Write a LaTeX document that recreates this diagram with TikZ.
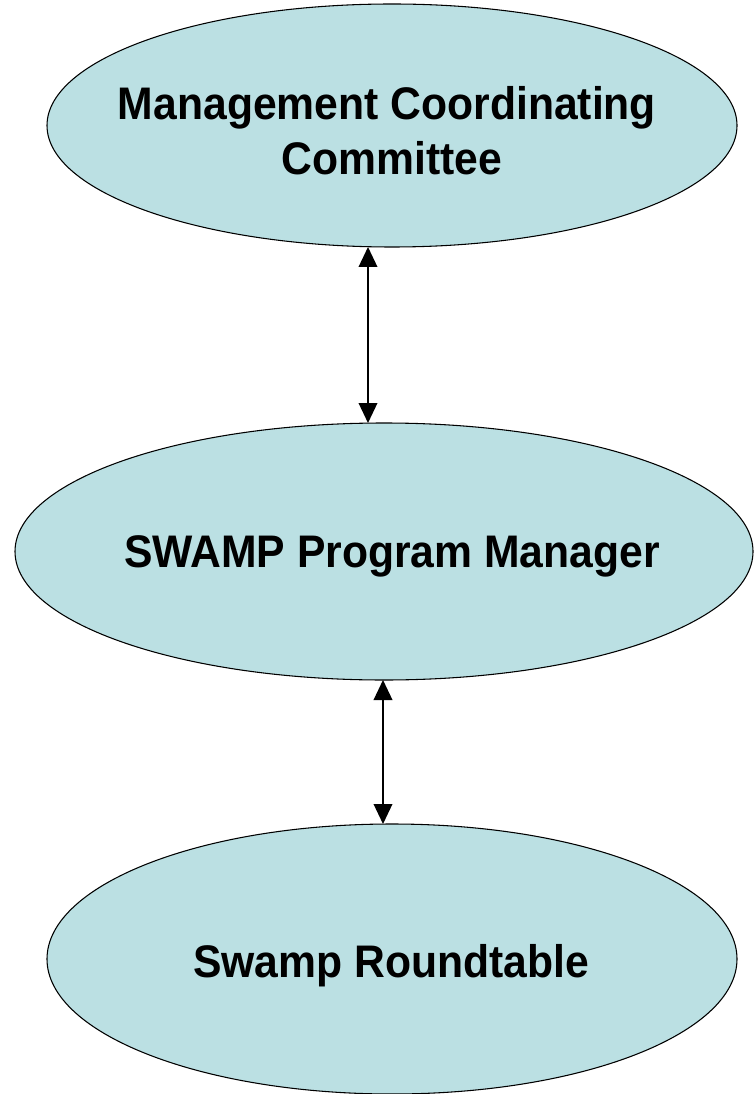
\documentclass[tikz,border=0pt]{standalone}
\usepackage{fontspec}
\usepackage{graphicx}
\setmainfont{Liberation Sans}
\usetikzlibrary{shapes.geometric,arrows.meta}
\definecolor{bubble}{RGB}{187,224,227}
\newcommand{\tallline}[1]{\scalebox{1}[1.07]{#1}}
\begin{document}
\begin{tikzpicture}[x=0.75pt,y=-0.75pt,
  bubble/.style={ellipse,draw=black,line width=0.8pt,fill=bubble,inner sep=0pt,outer sep=0pt},
  caption/.style={anchor=base,inner sep=0pt,font=\bfseries\fontsize{32}{37}\selectfont},
  link/.style={line width=1.1pt,{Triangle[length=15pt,width=14pt]}-{Triangle[length=15pt,width=14pt]}}]
\useasboundingbox (0,0) rectangle (753,1094);
\node[bubble,minimum width=690*0.75pt,minimum height=243*0.75pt] (mcc) at (392,125.5) {};
\node[bubble,minimum width=738*0.75pt,minimum height=257*0.75pt] (spm) at (384,551.5) {};
\node[bubble,minimum width=690*0.75pt,minimum height=270*0.75pt] (srt) at (392,959) {};
\node[caption] (mcc1) at (387,119.5) {\tallline{Management Coordinating}};
\node[caption] (mcc2) at (392,174.5) {\tallline{Committee}};
\node[caption] (spm1) at (392,567.5) {\tallline{SWAMP Program Manager}};
\node[caption] (srt1) at (391,977) {\tallline{Swamp Roundtable}};
\coordinate (c1) at (368,0);
\coordinate (c2) at (383,0);
\draw[link] (c1 |- mcc.south) -- (c1 |- spm.north);
\draw[link] (c2 |- spm.south) -- (c2 |- srt.north);
\end{tikzpicture}
\end{document}
